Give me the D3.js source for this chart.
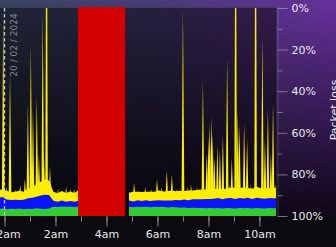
<!DOCTYPE html>
<html>
<head>
<meta charset="utf-8">
<script src="https://cdn.jsdelivr.net/npm/d3@7"></script>
<style>
  body { margin: 0; background: #0b0a0e; }
  svg { display: block; font-family: "DejaVu Sans", sans-serif; }
</style>
</head>
<body>
<svg id="chart" width="336" height="247"></svg>
<script>
// samples every 10 minutes, % of scale, stacked up from the 100% line
const sampleStep = 10;
const segStarts = ["2024-02-19T23:45", "2024-02-20T04:53"];

const green1  = [3.5, 3.6, 3.3, 3.5, 3.4, 3.6, 3.3, 3.5, 3.4, 3.7, 3.5, 3.4, 3.6, 4.5, 4.3, 4.6, 4.4, 4.5, 4.3, 4.6];
const blue1   = [5.2, 5.5, 4.6, 4.2, 4.4, 4.1, 4.5, 5.0, 5.4, 5.6, 6.4, 6.8, 6.5, 2.8, 2.6, 2.9, 2.5, 2.7, 2.6, 2.8];
const yellow1 = [3.9, 3.6, 4.2, 3.7, 3.9, 4.4, 3.8, 4.6, 5.2, 5.8, 6.6, 7.4, 7.0, 4.4, 4.0, 4.5, 4.2, 4.6, 4.1, 5.2];

const green2  = [4.4, 4.2, 4.5, 4.3, 4.4, 4.2, 4.5, 4.3, 4.4, 4.1, 4.3, 4.2, 4.0, 4.1, 3.9, 4.0, 3.8, 3.9,
                 3.7, 3.8, 3.7, 3.9, 3.6, 3.8, 3.7, 3.6, 3.8, 3.7, 3.9, 3.6, 3.8, 3.7, 3.6, 3.8, 3.7, 3.8];
const blue2   = [3.0, 2.8, 3.1, 2.9, 3.2, 3.0, 2.9, 3.3, 3.1, 3.4, 3.2, 3.5, 3.6, 3.8, 3.7, 4.0, 4.2, 4.1,
                 4.5, 4.4, 4.6, 4.8, 4.5, 4.7, 4.9, 4.6, 4.8, 4.7, 4.9, 4.6, 5.0, 4.8, 4.7, 4.9, 4.8, 4.8];
const yellow2 = [3.8, 4.6, 4.0, 4.3, 4.1, 4.5, 4.2, 4.6, 4.3, 4.4, 4.7, 4.2, 4.5, 4.1, 4.6, 4.3, 4.5, 4.8,
                 4.6, 5.0, 4.7, 4.4, 4.9, 4.6, 5.1, 5.4, 5.0, 5.2, 4.7, 4.9, 5.3, 4.8, 5.0, 4.7, 5.1, 5.0];

// single loss spikes: [time, peak %]
const spikes = [
  ["23:57", 3], ["00:05", 86], ["00:13", 31], ["00:25", 87], ["00:37", 85], ["00:48", 82],
  ["00:55", 46], ["01:02", 18], ["01:07", 49], ["01:10", 85], ["01:16", 43], ["01:21", 70],
  ["01:30", 3], ["01:33", 72], ["01:39", 0], ["01:47", 76], ["02:06", 87], ["02:15", 88],
  ["02:25", 86], ["02:35", 87], ["02:44", 87],
  ["05:05", 84], ["05:15", 88], ["05:31", 86], ["05:45", 87], ["05:59", 82], ["06:10", 86],
  ["06:22", 78], ["06:34", 80], ["06:45", 87], ["07:00", 1], ["07:10", 86], ["07:19", 85],
  ["07:33", 86], ["07:40", 87], ["07:47", 35], ["07:56", 70], ["08:00", 62], ["08:03", 55],
  ["08:07", 52], ["08:10", 60], ["08:14", 72], ["08:21", 66], ["08:27", 68], ["08:34", 61],
  ["08:44", 24], ["08:50", 85], ["08:55", 72], ["09:04", 0], ["09:09", 49], ["09:13", 56],
  ["09:20", 86], ["09:24", 55], ["09:31", 63], ["09:40", 85], ["09:51", 0], ["10:00", 86],
  ["10:07", 14], ["10:13", 63], ["10:20", 48], ["10:27", 70], ["10:32", 46], ["10:37", 85]
];

const outages = [["02:53", "04:44"]];

const yMajor = [0, 20, 40, 60, 80, 100];
const yMinor = [10, 30, 50, 70, 90];
const dateLabel = "20 / 02 / 2024";
const axisTitle = "Packet loss";

const W = 336, H = 247;
const plot = {left: 0, right: 277, top: 8, bottom: 216};

const parseT = s => {
  const [h, m] = s.split(":").map(Number);
  return new Date(2024, 1, h >= 20 ? 19 : 20, h, m);
};

const svg = d3.select("#chart").attr("viewBox", [0, 0, W, H]);

const x = d3.scaleTime()
  .domain([new Date(2024, 1, 19, 23, 49, 24), new Date(2024, 1, 20, 10, 39)])
  .range([0, 276]);
const y = d3.scaleLinear().domain([0, 100]).range([plot.top, plot.bottom]);

const defs = svg.append("defs");
const bgH = defs.append("linearGradient").attr("id", "bgH")
  .attr("x1", 0).attr("x2", 1).attr("y1", 0).attr("y2", 0);
bgH.append("stop").attr("offset", "0%").attr("stop-color", "#3b4563");
bgH.append("stop").attr("offset", "50%").attr("stop-color", "#4a3c7a");
bgH.append("stop").attr("offset", "100%").attr("stop-color", "#67309e");

const bgV = defs.append("linearGradient").attr("id", "bgV")
  .attr("x1", 0).attr("x2", 0).attr("y1", 0).attr("y2", 1);
[[0, 0.0], [0.1, 0.1], [0.45, 0.45], [0.8, 0.78], [1, 0.95]].forEach(([o, a]) =>
  bgV.append("stop").attr("offset", o).attr("stop-color", "#000").attr("stop-opacity", a));

defs.append("clipPath").attr("id", "plotClip")
  .append("rect").attr("x", 0).attr("y", 7).attr("width", 276).attr("height", 209);

// background layers
svg.append("rect").attr("width", W).attr("height", H).attr("fill", "url(#bgH)");
svg.append("rect").attr("width", W).attr("height", H).attr("fill", "url(#bgV)");
svg.append("rect").attr("x", 0).attr("y", 7).attr("width", 277).attr("height", 209)
  .attr("fill", "#000").attr("opacity", 0.45);
svg.append("rect").attr("x", 0).attr("y", 216).attr("width", W).attr("height", H - 216)
  .attr("fill", "#0b0a0e");
svg.append("line").attr("x1", 0).attr("x2", 277).attr("y1", 7.5).attr("y2", 7.5)
  .attr("stroke", "#fff").attr("stroke-opacity", 0.12);

const g = svg.append("g").attr("clip-path", "url(#plotClip)");

// spikes first, the stacked bands cover their bases
const spikeBase = y(92);
g.selectAll("path.spike").data(spikes).join("path")
  .attr("class", "spike")
  .attr("fill", "#ffee00")
  .attr("d", ([t, p]) => {
    const cx = x(parseT(t)), top = y(p);
    const pts = p <= 0
      ? [[cx - 1.3, spikeBase], [cx - 0.7, top], [cx + 0.7, top], [cx + 1.3, spikeBase]]
      : [[cx - 1.4, spikeBase], [cx, top], [cx + 1.4, spikeBase]];
    return d3.line()(pts) + "Z";
  });

const segData = [[green1, blue1, yellow1], [green2, blue2, yellow2]].map(([gr, bl, ye], k) => {
  const t0 = new Date(segStarts[k]);
  return gr.map((v, i) => ({
    date: d3.timeMinute.offset(t0, i * sampleStep),
    g: v, b: bl[i], yl: ye[i]
  }));
});

const layers = [
  {color: "#ffee00", top: d => d.g + d.b + d.yl},
  {color: "#0a14ff", top: d => d.g + d.b},
  {color: "#33cc33", top: d => d.g}
];

segData.forEach(seg => {
  layers.forEach(l => {
    g.append("path").datum(seg)
      .attr("fill", l.color)
      .attr("d", d3.area()
        .x(d => x(d.date))
        .y0(y(100))
        .y1(d => y(100 - l.top(d))));
  });
});

// outage blocks
g.selectAll("rect.outage").data(outages).join("rect")
  .attr("class", "outage")
  .attr("x", d => x(parseT(d[0])))
  .attr("width", d => x(parseT(d[1])) - x(parseT(d[0])))
  .attr("y", 7).attr("height", 209)
  .attr("fill", "#d20000");

// midnight marker
const midnight = new Date(2024, 1, 20, 0, 0);
svg.append("line")
  .attr("x1", x(midnight)).attr("x2", x(midnight))
  .attr("y1", 8).attr("y2", 216)
  .attr("stroke", "#c8c8c8").attr("stroke-width", 1.3)
  .attr("stroke-dasharray", "3.5,2.5");
svg.append("text")
  .attr("transform", `translate(${x(midnight) + 12.5},45) rotate(-90)`)
  .attr("text-anchor", "middle")
  .attr("font-size", 9)
  .attr("fill", "#8a8a92")
  .text(dateLabel);

// right axis
svg.append("rect").attr("x", 276).attr("y", 7).attr("width", 3).attr("height", 209)
  .attr("fill", "#fff").attr("opacity", 0.08);

const yAxis = svg.append("g")
  .attr("transform", `translate(277.5,0)`)
  .call(d3.axisRight(y).tickValues(yMajor).tickSize(10).tickPadding(4)
    .tickFormat(d => d + "%"))
  .call(a => a.select(".domain").remove());
yAxis.selectAll("line").attr("stroke", "#9a98a8").attr("stroke-opacity", 0.7);
yAxis.selectAll("text").attr("fill", "#e8e8ec").attr("font-size", 11)
  .attr("font-family", "DejaVu Sans");

const yMinorAxis = svg.append("g")
  .attr("transform", `translate(277.5,0)`)
  .call(d3.axisRight(y).tickValues(yMinor).tickSize(5).tickFormat(""))
  .call(a => a.select(".domain").remove());
yMinorAxis.selectAll("line").attr("stroke", "#9a98a8").attr("stroke-opacity", 0.7);

svg.append("text")
  .attr("transform", `translate(338,110) rotate(-90)`)
  .attr("text-anchor", "middle")
  .attr("font-size", 11)
  .attr("fill", "#e8e8ec")
  .text(axisTitle);

// bottom axis
const xMinor = svg.append("g")
  .attr("transform", `translate(0,216.5)`)
  .call(d3.axisBottom(x).ticks(d3.timeHour.every(1)).tickSize(5).tickFormat(""))
  .call(a => a.select(".domain").remove());
xMinor.selectAll("line").attr("stroke", "#8a8a8a");

const xMajor = svg.append("g")
  .attr("transform", `translate(0,216.5)`)
  .call(d3.axisBottom(x).ticks(d3.timeHour.every(2)).tickSize(10).tickPadding(4)
    .tickFormat(d => d3.timeFormat("%-I%p")(d).toLowerCase()))
  .call(a => a.select(".domain").remove());
xMajor.selectAll("line").attr("stroke", "#8a8a8a");
xMajor.selectAll("text").attr("fill", "#e8e8ec").attr("font-size", 11)
  .attr("font-family", "DejaVu Sans");
</script>
</body>
</html>
